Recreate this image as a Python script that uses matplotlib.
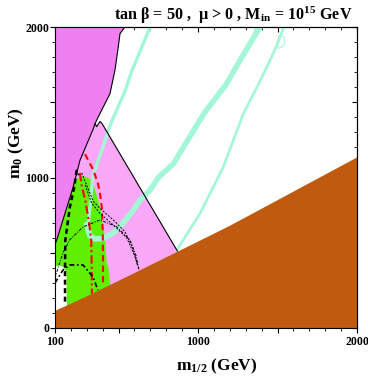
import numpy as np
import matplotlib
matplotlib.use('Agg')
import matplotlib.pyplot as plt

plt.rcParams['font.family'] = ['Liberation Serif', 'DejaVu Serif']
plt.rcParams['font.weight'] = 'bold'
plt.rcParams['mathtext.fontset'] = 'custom'
plt.rcParams['mathtext.rm'] = 'Liberation Serif:bold'
plt.rcParams['mathtext.it'] = 'Liberation Serif:bold'
plt.rcParams['mathtext.bf'] = 'Liberation Serif:bold'

# --- region boundaries (m_1/2, m_0 in GeV) ---
brown_m12 = [100, 300, 600, 870, 1200, 2000]
brown_m0 = [118, 215, 370, 511, 684, 1138]

violet_m12 = [540, 509, 498, 477, 446, 372, 352, 341, 289, 257, 236, 215, 163, 111, 100]
violet_m0 = [2000, 1956, 1867, 1712, 1557, 1402, 1358, 1324, 1194, 1114, 1025, 939, 762, 585, 555]

pink_top_m12 = [352, 362, 383, 395, 870]
pink_top_m0 = [1358, 1338, 1372, 1360, 511]

green_m12 = [100, 163, 215, 230, 262, 300, 322, 352, 383, 404, 414, 420, 425, 435, 446, 452, 100]
green_m0 = [560, 762, 939, 985, 1010, 1002, 990, 917, 806, 673, 600, 500, 432, 407, 300, 0, 0]

white_m12 = [100, 100, 130, 155, 172, 176]
white_m0 = [0, 410, 415, 405, 370, 0]

strip1_m12 = [698, 603, 583, 540, 457, 435, 415, 372, 338, 320, 308, 312]
strip1_m0 = [2000, 1756, 1708, 1573, 1373, 1314, 1247, 1114, 1010, 806, 680, 620]
strip2_m12 = [300, 318, 350, 400, 467, 530, 580, 635, 700, 750, 844, 907, 1040, 1180, 1264, 1390]
strip2_m0 = [690, 615, 592, 595, 632, 700, 765, 850, 920, 1000, 1090, 1200, 1430, 1623, 1779, 2000]
strip3_m12 = [1540, 1500, 1453, 1380, 1306, 1285, 1159, 1012, 940, 866]
strip3_m0 = [2000, 1890, 1779, 1620, 1468, 1424, 1070, 760, 640, 516]
loop_m12 = [1505, 1498, 1512, 1540, 1545, 1528, 1505]
loop_m0 = [1860, 1905, 1945, 1935, 1890, 1865, 1860]
blob_m12 = [1330, 1345, 1360]
blob_m0 = [1880, 1930, 1985]

chargino_m12 = [163, 163, 165, 194, 220, 236, 248, 252]
chargino_m0 = [175, 400, 585, 806, 930, 1045, 1040, 1015]
higgs_dd_m12 = [257, 268, 290, 305, 318, 328, 331, 332]
higgs_dd_m0 = [1030, 945, 850, 760, 670, 580, 400, 228]
higgs_d_m12 = [289, 341, 370, 383, 394, 400, 402, 402]
higgs_d_m0 = [1155, 1050, 960, 895, 806, 650, 500, 280]

small_ell_m12 = [100, 150, 194, 276, 339, 370]
small_ell_m0 = [299, 385, 419, 419, 339, 252]
big_ell_m12 = [100, 121, 150, 194, 276, 383, 488, 572, 610, 624, 630]
big_ell_m0 = [330, 407, 500, 587, 671, 718, 673, 585, 480, 407, 385]
thinA_m12 = [268, 341, 383, 467, 540, 590, 624]
thinA_m0 = [1030, 841, 795, 718, 640, 530, 400]
thinB_m12 = [290, 330, 383, 467, 551, 604, 618]
thinB_m0 = [950, 830, 762, 684, 600, 474, 420]

x_major = [100, 500, 1000, 1500, 2000]
x_labels = ['100', '', '1000', '', '2000']
y_major = [0, 500, 1000, 1500, 2000]
y_labels = ['0', '', '1000', '', '2000']

c_violet = '#ee80f2'
c_pink = '#f8a8f6'
c_green = '#5ef000'
c_brown = '#bf5a0e'
c_strip = '#a4f7d6'

fig = plt.figure(figsize=(3.68, 3.82), dpi=100)
ax = fig.add_axes([55 / 368, (382 - 328) / 382, 302 / 368, 301 / 382])

# light pink region: left edge is the violet boundary, top/right the solid line
pk_x = list(violet_m12[6:][::-1]) + pink_top_m12 + [870, 100]
pk_y = list(violet_m0[6:][::-1]) + pink_top_m0 + [0, 0]
ax.fill(pk_x, pk_y, color=c_pink, lw=0, zorder=1)

ax.fill(green_m12, green_m0, color=c_green, lw=0, zorder=2)
ax.fill(white_m12, white_m0, color='white', lw=0, zorder=3)

for xs, ys, w in [(strip1_m12, strip1_m0, 2.4), (strip2_m12, strip2_m0, 4.0),
                  (strip3_m12, strip3_m0, 1.9), (loop_m12, loop_m0, 0.8),
                  (blob_m12, blob_m0, 1.6)]:
    ax.plot(xs, ys, color=c_strip, lw=w, solid_capstyle='round',
            solid_joinstyle='round', zorder=4)

ax.fill(violet_m12 + [100], violet_m0 + [2000], color=c_violet, lw=0, zorder=5)
ax.fill_between(brown_m12, brown_m0, 0, color=c_brown, lw=0, zorder=5)

ax.plot(violet_m12, violet_m0, color='black', lw=0.8, zorder=6)
ax.plot(pink_top_m12, pink_top_m0, color='black', lw=0.8, zorder=6)

ax.plot(chargino_m12, chargino_m0, color='black', lw=1.8, dashes=(2, 1.4), zorder=7)
ax.plot(higgs_dd_m12, higgs_dd_m0, color='red', lw=1.5, dashes=(4, 1.5, 1, 1.5), zorder=7)
ax.plot(higgs_d_m12, higgs_d_m0, color='red', lw=1.5, dashes=(3, 2), zorder=7)
ax.plot(small_ell_m12, small_ell_m0, color='black', lw=1.2, dashes=(3, 1.5, 1, 1.5), zorder=7)
ax.plot(big_ell_m12, big_ell_m0, color='black', lw=0.7, dashes=(3, 1.5, 1, 1.5), zorder=7)
ax.plot(thinA_m12, thinA_m0, color='black', lw=0.7, dashes=(2, 1.5), zorder=7)
ax.plot(thinB_m12, thinB_m0, color='black', lw=0.7, dashes=(2, 1.5), zorder=7)

ax.set_xlim(100, 2000)
ax.set_ylim(0, 2000)

ax.set_xticks(x_major)
ax.set_xticklabels(x_labels)
ax.set_yticks(y_major)
ax.set_yticklabels(y_labels)
ax.set_xticks(np.arange(200, 2000, 100), minor=True)
ax.set_yticks(np.arange(100, 2000, 100), minor=True)
ax.tick_params(which='major', direction='out', length=3.5, width=0.8, labelsize=8.5)
ax.tick_params(axis='x', which='major', pad=2)
ax.tick_params(axis='y', which='major', pad=0.5)
ax.tick_params(which='minor', direction='out', length=2, width=0.6)
for sp in ax.spines.values():
    sp.set_linewidth(0.8)
    sp.set_zorder(10)

top = ax.secondary_xaxis('top')
top.set_xticks(x_major)
top.set_xticks(np.arange(200, 2000, 100), minor=True)
top.tick_params(which='major', direction='in', length=3.5, width=0.8, labeltop=False)
top.tick_params(which='minor', direction='in', length=2, width=0.6)
right = ax.secondary_yaxis('right')
right.set_yticks(y_major)
right.set_yticks(np.arange(100, 2000, 100), minor=True)
right.tick_params(which='major', direction='in', length=3.5, width=0.8, labelright=False)
right.tick_params(which='minor', direction='in', length=2, width=0.6)

fig.text(353 / 368, 1 - 20 / 382, r'tan β = 50 ,  μ > 0 , M$_{\rm in}$ = 10$^{15}$ GeV',
         ha='right', va='baseline', fontsize=11.6, fontweight='bold')
fig.text(217 / 368, 1 - 366 / 382, r'm$_{1/2}$ (GeV)', ha='center', va='center',
         fontsize=12.5, fontweight='bold')
fig.text(16 / 368, 1 - 143 / 382, r'm$_0$ (GeV)', ha='center', va='center',
         rotation=90, fontsize=12.5, fontweight='bold')

fig.savefig('out.png', dpi=100)
